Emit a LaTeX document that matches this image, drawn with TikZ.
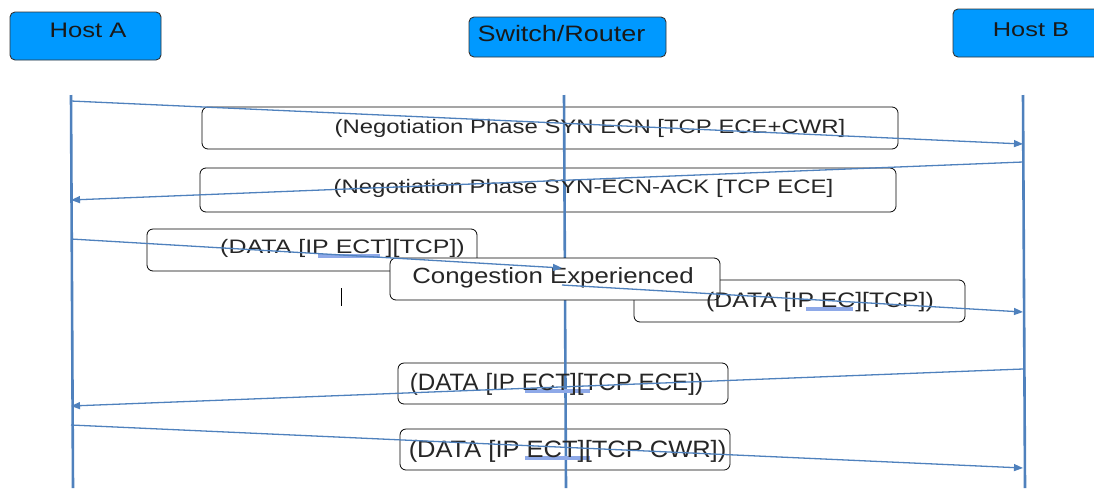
\documentclass[tikz,border=0pt]{standalone}
\usepackage{fontspec}
\setmainfont{Liberation Sans}
\usetikzlibrary{arrows.meta}
\definecolor{hostblue}{HTML}{0099FF}
\definecolor{lifeblue}{HTML}{4F81BD}
\definecolor{hlblue}{HTML}{8EA9E8}
\newcommand{\fs}[1]{\fontsize{#1}{#1}\selectfont}
\tikzset{
  hostbox/.style={draw=black!80, line width=0.9pt, fill=hostblue, rounded corners=5pt},
  hosttext/.style={anchor=base, inner sep=0pt, text=black!90},
  lifeline/.style={draw=lifeblue, line width=2.6pt},
  msgbox/.style={draw=black, line width=0.8pt, rounded corners=6pt},
  msgtext/.style={anchor=base, inner sep=0pt, text=black!85},
  msg/.style={draw=lifeblue, line width=1.3pt, -{Triangle[length=9pt,width=7pt]}},
  hl/.style={draw=hlblue, line width=4pt},
}
\begin{document}
\begin{tikzpicture}[x=1pt,y=-1pt]
\useasboundingbox (0,0) rectangle (1094,488);
% header boxes
\draw[hostbox] (10,12) rectangle (161,60);
\draw[hostbox] (469,17) rectangle (666,57);
\draw[hostbox] (953,9) rectangle (1100,57);
\node[hosttext] (ha) at (88,37) {\fs{21}\scalebox{1.22}[1]{Host A}};
\node[hosttext] (sw) at (561.5,41) {\fs{22.3}\scalebox{1.21}[1]{Switch/Router}};
\node[hosttext] (hb) at (1031,36) {\fs{20}\scalebox{1.27}[1]{Host B}};
% lifelines
\coordinate (aT) at (71,95); \coordinate (aB) at (73,488);
\coordinate (sT) at (564,95); \coordinate (sB) at (566,488);
\coordinate (bT) at (1023,95); \coordinate (bB) at (1025,488);
\draw[lifeline] (aT) -- (aB);
\draw[lifeline] (bT) -- (bB);
% message boxes (unfilled)
\draw[msgbox] (202,107) rectangle (898,149);
\draw[msgbox] (200,168) rectangle (896,212);
\draw[msgbox] (147,229) rectangle (477,271);
\draw[msgbox] (634,280) rectangle (965,322);
\draw[msgbox] (398,363) rectangle (728,404);
\draw[msgbox] (400,429) rectangle (730,470);
% switch lifeline
\draw[lifeline] (sT) -- (sB);
% congestion box (filled, on top)
\draw[msgbox, fill=white] (390,258) rectangle (720,300);
% highlights
\draw[hl] (318,256) -- (380,256);
\draw[hl] (806,309) -- (853,309);
\draw[hl] (525,391) -- (590,391);
\draw[hl] (525,458) -- (590,458);
% texts
\node[msgtext] (t1) at (590,133) {\fs{19.5}\scalebox{1.226}[1]{(Negotiation Phase SYN ECN [TCP ECE+CWR]}};
\node[msgtext] (t2) at (583.5,193) {\fs{19.5}\scalebox{1.23}[1]{(Negotiation Phase SYN-ECN-ACK [TCP ECE]}};
\node[msgtext] (t3) at (342.5,253) {\fs{19.5}\scalebox{1.28}[1]{(DATA [IP ECT][TCP])}};
\node[msgtext] (t4) at (553,283) {\fs{22}\scalebox{1.174}[1]{Congestion Experienced}};
\node[msgtext] (t5) at (820,307) {\fs{21}\scalebox{1.18}[1]{(DATA [IP EC][TCP])}};
\node[msgtext] (t6) at (556.5,390) {\fs{23.7}\scalebox{1.02}[1]{(DATA [IP ECT][TCP ECE])}};
\node[msgtext] (t7) at (567.5,457) {\fs{23.7}\scalebox{1.075}[1]{(DATA [IP ECT][TCP CWR])}};
% cursor mark
\coordinate (c1) at (341,288); \coordinate (c2) at (341,306);
\draw[black, line width=0.9pt] (c1) -- (c2);
% message endpoints
\coordinate (m1s) at (71,101);  \coordinate (m1e) at (1023,144);
\coordinate (m2s) at (1023,162); \coordinate (m2e) at (71,200);
\coordinate (m3s) at (71,239);  \coordinate (m3e) at (562,268);
\coordinate (m5s) at (562,285); \coordinate (m5e) at (1023,312);
\coordinate (m7s) at (1023,369); \coordinate (m7e) at (71,406);
\coordinate (m8s) at (71,425);  \coordinate (m8e) at (1023,468);
\draw[msg] (m1s) -- (m1e);
\draw[msg] (m2s) -- (m2e);
\draw[msg] (m3s) -- (m3e);
\draw[msg] (m5s) -- (m5e);
\draw[msg] (m7s) -- (m7e);
\draw[msg] (m8s) -- (m8e);
\end{tikzpicture}
\end{document}
